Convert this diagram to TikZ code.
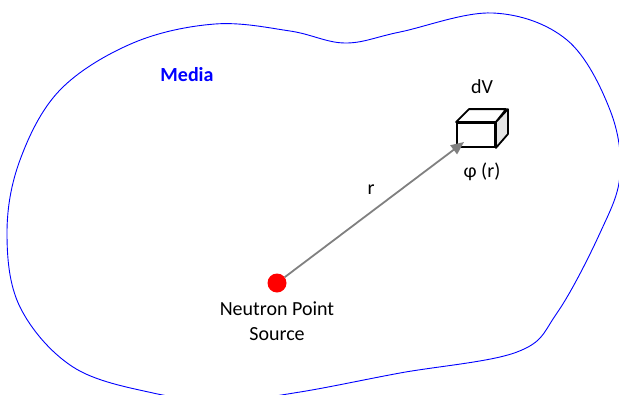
\documentclass[tikz,border=0pt]{standalone}
\usepackage{fontspec}
\setmainfont{Carlito}
\usetikzlibrary{arrows.meta, positioning}

\begin{document}
\begin{tikzpicture}[
    x=1pt, y=-1pt,
    label/.style={font=\fontsize{20}{25}\selectfont, align=center, inner sep=0pt},
    medium/.style={draw=blue, line width=0.9pt},
    source/.style={circle, fill=red, minimum size=19pt, inner sep=0pt},
    front/.style={draw, line width=1.8pt, fill=white, minimum width=38pt, minimum height=24pt, inner sep=0pt},
    face/.style={draw, line width=1.8pt, line join=round},
    ray/.style={draw=gray, line width=1.8pt, -{Triangle[length=13pt, width=11pt]}}
]
\useasboundingbox (0,0) rectangle (619,394);

% Media boundary
\draw[medium] plot[smooth cycle, tension=0.6] coordinates {
    (133,43) (215,24) (290,31) (345,43) (400,32) (493,13) (567,40)
    (610,110) (620,175) (600,233) (557,313) (517,352) (400,373)
    (300,392) (225,401) (153,393) (73,367) (20,307) (7,233) (20,160)
    (60,90)};
\node[label, text=blue, font=\fontsize{20}{25}\selectfont\bfseries] (media) at (187,75) {Media};

% Volume element
\node[front] (dv) at (476,135) {};
\draw[face, fill=white] (dv.north west) -- ++(13,-13) -- ++(37,0) -- (dv.north east) -- cycle;
\draw[face, fill=gray!20] (dv.north east) -- ++(12,-13) -- ++(0,25) -- (dv.south east) -- cycle;
\node[label] (dvlabel) at (482,87) {dV};
\node[label] (flux) at (482,172) {φ (r)};

% Point source
\node[source] (src) at (277,283) {};
\node[label, below=9pt of src] (srclabel) {Neutron Point\\Source};

% Distance
\coordinate (tip) at (464,142);
\draw[ray] (src) -- (tip);
\node[label] (dist) at (371,190) {r};

\end{tikzpicture}
\end{document}
